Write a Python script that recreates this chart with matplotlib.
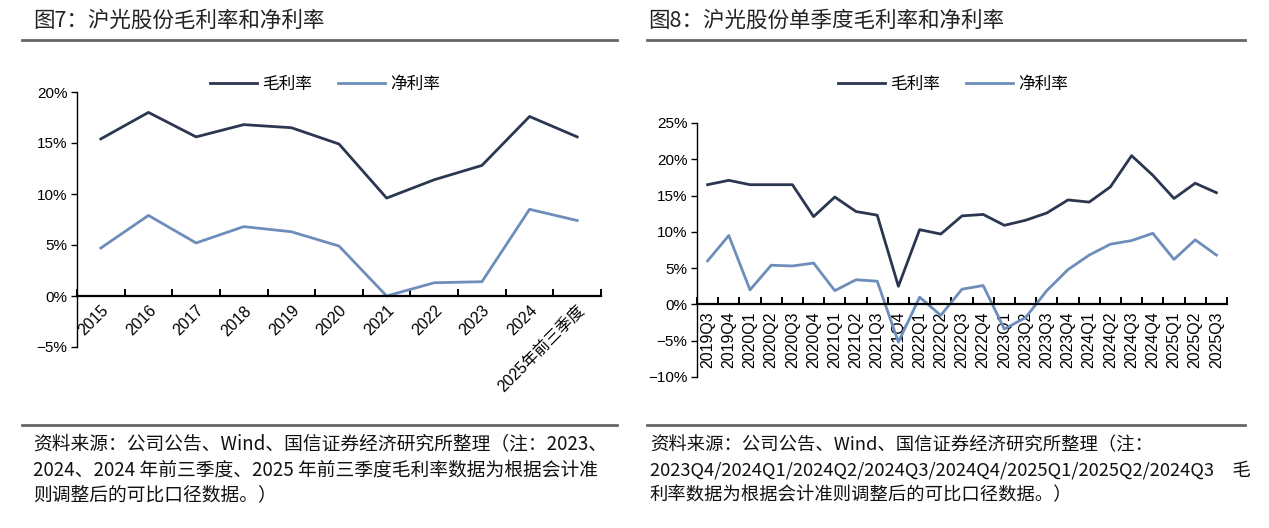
import matplotlib.pyplot as plt
import matplotlib.ticker as mticker
from matplotlib.lines import Line2D
import numpy as np

plt.rcParams['font.family'] = ['Liberation Sans', 'Noto Sans CJK SC', 'DejaVu Sans']
plt.rcParams['axes.unicode_minus'] = True

# ---- data ----
years = ['2015', '2016', '2017', '2018', '2019', '2020', '2021', '2022',
         '2023', '2024', '2025年前三季度']
gross_y = [15.4, 18.0, 15.6, 16.8, 16.5, 14.9, 9.6, 11.4, 12.8, 17.6, 15.6]
net_y = [4.7, 7.9, 5.2, 6.8, 6.3, 4.9, 0.0, 1.3, 1.4, 8.5, 7.4]

quarters = ['2019Q3', '2019Q4', '2020Q1', '2020Q2', '2020Q3', '2020Q4',
            '2021Q1', '2021Q2', '2021Q3', '2021Q4', '2022Q1', '2022Q2',
            '2022Q3', '2022Q4', '2023Q1', '2023Q2', '2023Q3', '2023Q4',
            '2024Q1', '2024Q2', '2024Q3', '2024Q4', '2025Q1', '2025Q2', '2025Q3']
gross_q = [16.5, 17.1, 16.5, 16.5, 16.5, 12.1, 14.8, 12.8, 12.3, 2.5,
           10.3, 9.7, 12.2, 12.4, 10.9, 11.6, 12.6, 14.4, 14.1, 16.2,
           20.5, 17.8, 14.6, 16.7, 15.4]
net_q = [6.0, 9.5, 2.0, 5.4, 5.3, 5.7, 1.9, 3.4, 3.2, -5.2,
         1.0, -1.5, 2.1, 2.6, -3.4, -1.8, 1.9, 4.8, 6.8, 8.3,
         8.8, 9.8, 6.2, 8.9, 6.8]

c_gross = '#2b3650'
c_net = '#6d8dba'
cjk = ['Noto Sans CJK SC', 'DejaVu Sans']

W, H = 1269, 528
fig = plt.figure(figsize=(W / 100, H / 100), dpi=100)


def px(x0, y0, x1, y1):
    # pixel box -> figure fraction rect
    return [x0 / W, 1 - y1 / H, (x1 - x0) / W, (y1 - y0) / H]


def setup(ax, labels, ylim, rot):
    n = len(labels)
    ax.set_xlim(-0.5, n - 0.5)
    ax.set_ylim(*ylim)
    for s in ['top', 'right']:
        ax.spines[s].set_visible(False)
    ax.spines['bottom'].set_position(('data', 0))
    ax.spines['bottom'].set_linewidth(1.6)
    ax.spines['left'].set_linewidth(1.0)
    ax.yaxis.set_major_locator(mticker.MultipleLocator(5))
    ax.yaxis.set_major_formatter(mticker.FuncFormatter(lambda v, p: f'{v:.0f}%'.replace('-', '\u2212')))
    ax.tick_params(axis='y', direction='out', length=4, width=1, labelsize=11, pad=3)
    ax.set_xticks(np.arange(n))
    ax.set_xticks(np.arange(n + 1) - 0.5, minor=True)
    ax.tick_params(axis='x', which='major', length=0, labelsize=11.5, pad=5)
    ax.tick_params(axis='x', which='minor', direction='in', length=5, width=1.4)
    if rot == 45:
        ax.set_xticklabels(labels, rotation=45, ha='right', va='top', rotation_mode='anchor')
    else:
        ax.set_xticklabels(labels, rotation=90, ha='center', va='top')


# left chart
ax1 = fig.add_axes(px(77, 92, 601, 347))
x1 = np.arange(len(years))
ax1.plot(x1, gross_y, color=c_gross, lw=2.0, label='毛利率')
ax1.plot(x1, net_y, color=c_net, lw=2.0, label='净利率')
setup(ax1, years, (-5, 20), 45)

# right chart
ax2 = fig.add_axes(px(697, 123, 1227, 377))
x2 = np.arange(len(quarters))
ax2.plot(x2, gross_q, color=c_gross, lw=2.0, label='毛利率')
ax2.plot(x2, net_q, color=c_net, lw=2.0, label='净利率')
setup(ax2, quarters, (-10, 25), 90)

# legends
for ax, cx in [(ax1, 325), (ax2, 953)]:
    fig.legend(handles=ax.get_lines(), loc='center', bbox_to_anchor=(cx / W, 1 - 84 / H),
               ncol=2, frameon=False, handlelength=2.8, columnspacing=1.6,
               handletextpad=0.3, prop={'family': cjk, 'size': 12})

# titles and rules
fig.text(33 / W, 1 - 21 / H, '图7：沪光股份毛利率和净利率', family=cjk, fontsize=15.5,
         va='center', ha='left', color='#222222')
fig.text(648 / W, 1 - 21 / H, '图8：沪光股份单季度毛利率和净利率', family=cjk, fontsize=15.5,
         va='center', ha='left', color='#222222')
for xa, xb in [(22, 617), (647, 1245)]:
    for yy in [40, 425]:
        fig.add_artist(Line2D([xa / W, xb / W], [1 - yy / H, 1 - yy / H],
                              color='#666666', lw=2.0))

src_left = ['资料来源：公司公告、Wind、国信证券经济研究所整理（注：2023、',
            '2024、2024 年前三季度、2025 年前三季度毛利率数据为根据会计准',
            '则调整后的可比口径数据。）']
src_right = ['资料来源：公司公告、Wind、国信证券经济研究所整理（注：',
             '2023Q4/2024Q1/2024Q2/2024Q3/2024Q4/2025Q1/2025Q2/2024Q3　毛',
             '利率数据为根据会计准则调整后的可比口径数据。）']
for i, (a, b) in enumerate(zip(src_left, src_right)):
    yy = 1 - (445 + i * 25) / H
    fig.text(33 / W, yy, a, family=cjk, fontsize=13.5, va='center', ha='left', color='#111111')
    fig.text(650 / W, yy, b, family=cjk, fontsize=13.2, va='center', ha='left', color='#111111')

fig.savefig('out.png', dpi=100)
